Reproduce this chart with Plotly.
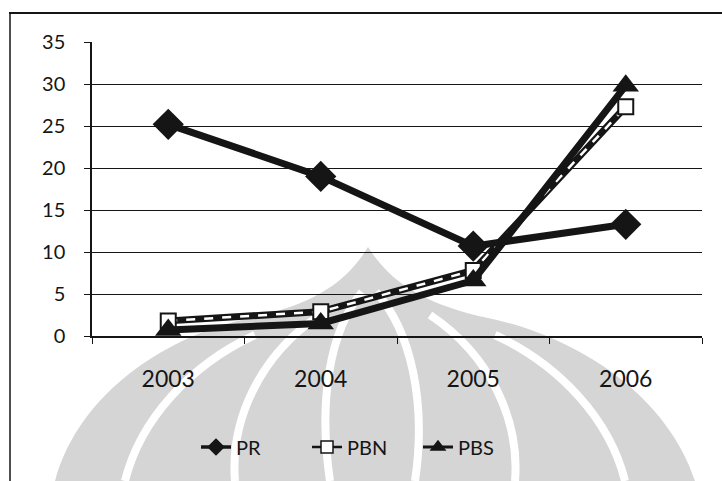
import plotly.graph_objects as go

# Series values per year
years = ["2003", "2004", "2005", "2006"]
pr = [25.2, 19.0, 10.7, 13.3]
pbn = [1.8, 2.9, 7.8, 27.3]
pbs = [0.7, 1.5, 6.6, 29.8]
y_ticks = [0, 5, 10, 15, 20, 25, 30, 35]

W, H = 722, 481
L, R, T, B = 92, 20, 42, 145
PW, PH = W - L - R, H - T - B


def px(x):
    return (x - L) / PW


def py(y):
    return (H - B - y) / PH


def path(d):
    # convert a pixel-space path ("M x,y C ...") into paper coordinates
    out = []
    for tok in d.split():
        if "," in tok:
            a, b = tok.split(",")
            out.append(f"{px(float(a)):.5f},{py(float(b)):.5f}")
        else:
            out.append(tok)
    return " ".join(out)


FONT = "Lato, 'Open Sans', sans-serif"
INK = "#151515"
GREY = "#d5d5d5"

fig = go.Figure()

# PBN: outlined line with hollow squares, mostly tucked under PBS
fig.add_trace(go.Scatter(
    x=years, y=pbn, mode="lines", showlegend=False,
    line=dict(color=INK, width=7),
))
fig.add_trace(go.Scatter(
    x=years, y=pbn, mode="lines", showlegend=False, hoverinfo="skip",
    line=dict(color="white", width=2.5, dash="dash"),
))
fig.add_trace(go.Scatter(
    x=years, y=pbn, mode="markers", showlegend=False, hoverinfo="skip",
    marker=dict(symbol="square", size=15, color="white", line=dict(color=INK, width=2)),
))
fig.add_trace(go.Scatter(
    x=years, y=pbs, mode="lines+markers", showlegend=False,
    line=dict(color=INK, width=7),
    marker=dict(symbol="triangle-up", size=23, color=INK),
))
fig.add_trace(go.Scatter(
    x=years, y=pr, mode="lines+markers", showlegend=False,
    line=dict(color=INK, width=7),
    marker=dict(symbol="diamond", size=24, color=INK),
))

# legend entries with the lighter key styling
legend_keys = [
    ("PR", "diamond", INK, 3.5),
    ("PBN", "square", "white", 2.5),
    ("PBS", "triangle-up", INK, 3),
]
for name, sym, fill, lw in legend_keys:
    fig.add_trace(go.Scatter(
        x=[None], y=[None], name=name, mode="lines+markers",
        line=dict(color=INK, width=lw),
        marker=dict(symbol=sym, size=12, color=fill, line=dict(color=INK, width=1.5)),
    ))

shapes = []
# faint emblem in the background
shapes.append(dict(
    type="path", xref="paper", yref="paper", layer="below",
    path=path("M 55,481 C 80,390 170,335 250,318 C 310,305 345,285 368,247 "
              "C 392,285 428,305 488,318 C 570,335 665,390 695,481 Z"),
    fillcolor=GREY, line=dict(width=0),
))
for d in [
    "M 125,481 C 140,420 190,365 255,335",
    "M 625,481 C 610,420 560,365 495,335",
    "M 235,481 C 230,420 260,355 320,315",
    "M 515,481 C 520,420 490,355 430,315",
    "M 330,481 C 318,400 330,330 362,292",
    "M 415,481 C 427,400 410,330 376,292",
]:
    shapes.append(dict(
        type="path", xref="paper", yref="paper", layer="below",
        path=path(d), line=dict(color="white", width=8),
    ))
# outer frame (top and left edges)
shapes.append(dict(type="line", xref="paper", yref="paper",
                   x0=px(9), x1=px(722), y0=py(13), y1=py(13),
                   line=dict(color=INK, width=2)))
shapes.append(dict(type="line", xref="paper", yref="paper",
                   x0=px(10), x1=px(10), y0=py(13), y1=py(481),
                   line=dict(color=INK, width=1.5)))

fig.update_layout(
    width=W, height=H,
    margin=dict(l=L, r=R, t=T, b=B),
    paper_bgcolor="white", plot_bgcolor="rgba(0,0,0,0)",
    font=dict(family=FONT, color=INK),
    showlegend=True,
    legend=dict(
        orientation="h", x=px(196), xanchor="left", y=py(447), yanchor="middle",
        font=dict(size=20, family=FONT, color=INK),
        traceorder="normal", entrywidth=66, entrywidthmode="pixels",
        bgcolor="rgba(0,0,0,0)",
    ),
    shapes=shapes,
)

fig.update_xaxes(
    type="category", range=[-0.5, 3.5],
    showgrid=False, showline=True, linecolor=INK, linewidth=1.5,
    ticks="outside", tickson="boundaries", ticklen=6, tickcolor=INK,
    tickfont=dict(size=23, family=FONT, color=INK),
    ticklabelstandoff=22,
)
fig.update_yaxes(
    range=[0, 35], tickvals=y_ticks,
    showgrid=True, gridcolor=INK, gridwidth=1,
    showline=True, linecolor=INK, linewidth=1.5,
    ticks="outside", ticklen=6, tickcolor=INK,
    tickfont=dict(size=20, family=FONT, color=INK),
    ticklabelstandoff=15, zeroline=False,
)

fig.write_html("out.html")
